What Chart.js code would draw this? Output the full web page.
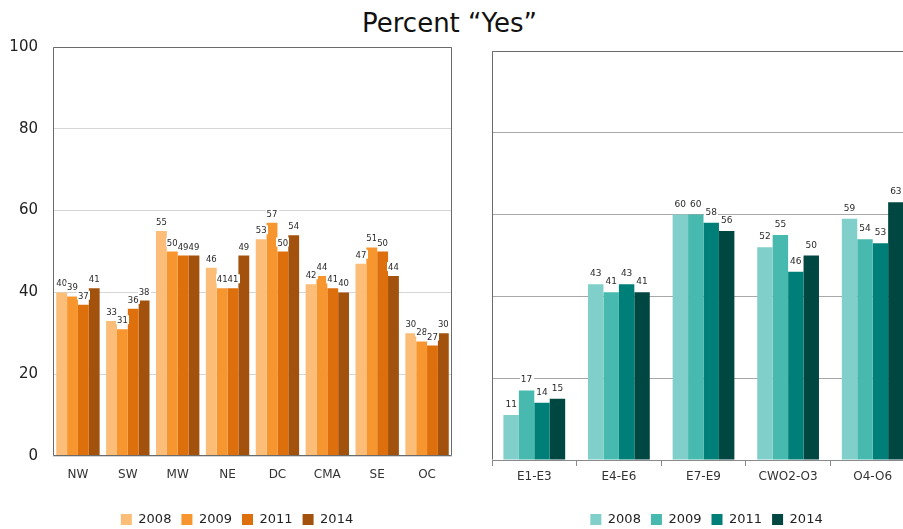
<!DOCTYPE html>
<html>
<head>
<meta charset="utf-8">
<script src="https://cdn.jsdelivr.net/npm/chart.js@4.4.1/dist/chart.umd.min.js"></script>
<style>
  html, body { margin: 0; padding: 0; width: 903px; height: 529px; overflow: hidden; background: #fff; }
  #title { position: absolute; left: 0; top: 8px; width: 899px; text-align: center;
           font: 26px "DejaVu Sans", sans-serif; line-height: 30px; color: #111; }
  canvas { position: absolute; top: 0; }
</style>
</head>
<body>
<div id="title">Percent “Yes”</div>
<canvas id="regionChart" width="474" height="536" style="left:0"></canvas>
<canvas id="gradeChart" width="440" height="536" style="left:492px"></canvas>
<script>
// Survey years shared by both panels
const years = ['2008', '2009', '2011', '2014'];

// Left panel: by region
const regions = ['NW', 'SW', 'MW', 'NE', 'DC', 'CMA', 'SE', 'OC'];
const region2008 = [40, 33, 55, 46, 53, 42, 47, 30];
const region2009 = [39, 31, 50, 41, 57, 44, 51, 28];
const region2011 = [37, 36, 49, 41, 50, 41, 50, 27];
const region2014 = [41, 38, 49, 49, 54, 40, 44, 30];

// Right panel: by pay grade
const grades = ['E1-E3', 'E4-E6', 'E7-E9', 'CWO2-O3', 'O4-O6'];
const grade2008 = [11, 43, 60, 52, 59];
const grade2009 = [17, 41, 60, 55, 54];
const grade2011 = [14, 43, 58, 46, 53];
const grade2014 = [15, 41, 56, 50, 63];

// Axis ticks (percent)
const percentTicks = [0, 20, 40, 60, 80, 100];

const FONT = '"DejaVu Sans", sans-serif';
const orangeShades = ['#FBBD78', '#F7952E', '#DD6F0C', '#A2520C'];
const tealShades = ['#80CFCA', '#47B9AF', '#007F78', '#004742'];

// Value printed above every bar on a small white patch
const valueLabels = {
  id: 'valueLabels',
  afterDatasetsDraw(chart, args, opts) {
    const ctx = chart.ctx;
    ctx.save();
    ctx.font = opts.size + 'px ' + FONT;
    ctx.textAlign = 'center';
    ctx.textBaseline = 'alphabetic';
    chart.data.datasets.forEach((ds, i) => {
      chart.getDatasetMeta(i).data.forEach((bar, j) => {
        const text = String(ds.data[j]);
        const w = ctx.measureText(text).width;
        const base = bar.y - opts.gap;
        const h = Math.round(opts.size * 0.8);
        ctx.fillStyle = '#fff';
        ctx.fillRect(Math.round(bar.x - w / 2 - 1), base - h - 1, Math.ceil(w + 2), h + 2);
        ctx.fillStyle = '#2a2a2a';
        ctx.fillText(text, bar.x, base);
      });
    });
    ctx.restore();
  }
};

// Plot-area outline (which sides are configurable)
const frame = {
  id: 'frame',
  afterDraw(chart, args, opts) {
    const a = chart.chartArea, ctx = chart.ctx;
    const l = Math.round(a.left) + 0.5, r = Math.round(a.right) - 0.5;
    const t = Math.round(a.top) + 0.5, b = Math.round(a.bottom) - 0.5;
    ctx.save();
    ctx.strokeStyle = opts.color;
    ctx.lineWidth = 1;
    ctx.beginPath();
    if (opts.top) { ctx.moveTo(l, t); ctx.lineTo(r, t); }
    if (opts.left) { ctx.moveTo(l, t); ctx.lineTo(l, b); }
    if (opts.right) { ctx.moveTo(r, t); ctx.lineTo(r, b); }
    if (opts.bottom) { ctx.moveTo(l, b); ctx.lineTo(r, b); }
    ctx.stroke();
    ctx.restore();
  }
};

// Nudges the legend row sideways after layout
const legendShift = {
  id: 'legendShift',
  afterLayout(chart, args, opts) {
    if (chart.legend) {
      chart.legend.left += opts.dx;
      chart.legend.right += opts.dx;
    }
  }
};

function buildDatasets(series, colors, catPct) {
  return years.map((y, i) => ({
    label: y,
    data: series[i],
    backgroundColor: colors[i],
    borderWidth: 0,
    categoryPercentage: catPct,
    barPercentage: 1
  }));
}

const legendOpts = {
  position: 'bottom',
  labels: { boxWidth: 11, boxHeight: 11, padding: 10, color: '#222', font: { family: FONT, size: 13 } }
};

new Chart(document.getElementById('regionChart'), {
  type: 'bar',
  data: {
    labels: regions,
    datasets: buildDatasets([region2008, region2009, region2011, region2014], orangeShades, 0.87)
  },
  options: {
    responsive: false,
    animation: false,
    devicePixelRatio: 1,
    layout: { padding: { left: 4, right: 22, top: 47, bottom: 0 } },
    plugins: {
      legend: legendOpts,
      tooltip: { enabled: false },
      valueLabels: { size: 8.5, gap: 6 },
      frame: { color: '#6b6b6b', top: true, left: true, right: true, bottom: true },
      legendShift: { dx: 9 }
    },
    scales: {
      x: {
        grid: { display: false },
        border: { display: false },
        ticks: { color: '#333', padding: 4, font: { family: FONT, size: 12 } },
        afterFit(s) { s.height = 47; }
      },
      y: {
        min: percentTicks[0],
        max: percentTicks[percentTicks.length - 1],
        afterBuildTicks(s) { s.ticks = percentTicks.map(v => ({ value: v })); },
        grid: { color: '#d6d6d6', drawTicks: false },
        border: { display: false },
        ticks: { color: '#222', padding: 15, font: { family: FONT, size: 15 } },
        afterFit(s) { s.width = 49; }
      }
    }
  },
  plugins: [valueLabels, frame, legendShift]
});

new Chart(document.getElementById('gradeChart'), {
  type: 'bar',
  data: {
    labels: grades,
    datasets: buildDatasets([grade2008, grade2009, grade2011, grade2014], tealShades, 0.73)
  },
  options: {
    responsive: false,
    animation: false,
    devicePixelRatio: 1,
    layout: { padding: { left: 0, right: 17, top: 51, bottom: 0 } },
    plugins: {
      legend: legendOpts,
      tooltip: { enabled: false },
      valueLabels: { size: 9, gap: 8 },
      frame: { color: '#6b6b6b', top: true, left: true, right: false, bottom: false },
      legendShift: { dx: 3 }
    },
    scales: {
      x: {
        grid: { display: true, drawOnChartArea: false, offset: true, tickLength: 6, color: '#8a8a8a' },
        border: { display: true, color: '#8a8a8a' },
        ticks: { color: '#333', padding: 4, font: { family: FONT, size: 12 } },
        afterFit(s) { s.height = 43; }
      },
      y: {
        min: percentTicks[0],
        max: percentTicks[percentTicks.length - 1],
        afterBuildTicks(s) { s.ticks = percentTicks.map(v => ({ value: v })); },
        grid: { color: '#a8a8a8', drawTicks: false },
        border: { display: false },
        ticks: { display: false },
        afterFit(s) { s.width = 0; }
      }
    }
  },
  plugins: [valueLabels, frame, legendShift]
});
</script>
</body>
</html>
